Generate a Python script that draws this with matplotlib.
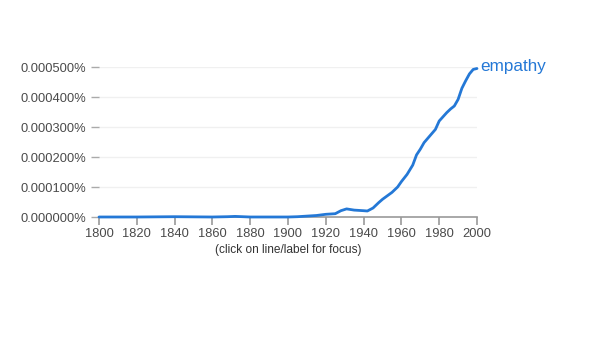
import matplotlib.pyplot as plt
from matplotlib.ticker import FuncFormatter

plt.rcParams['font.family'] = ['Liberation Sans', 'DejaVu Sans']

# yearly frequency of "empathy" (fraction, shown as percent)
years = [1800, 1820, 1840, 1860, 1868, 1872, 1876, 1880, 1900, 1905, 1910, 1915,
         1920, 1925, 1928, 1931, 1935, 1940, 1942, 1945, 1948, 1950, 1955, 1958,
         1960, 1963, 1966, 1968, 1970, 1972, 1975, 1978, 1980, 1982, 1984, 1986,
         1988, 1990, 1992, 1994, 1996, 1998, 2000]
values = [0.0, 0.0, 0.000001, 0.0, 0.000001, 0.000002, 0.000001, 0.0, 0.0, 0.000001,
          0.000003, 0.000005, 0.000009, 0.000011, 0.000021, 0.000027, 0.000023,
          0.000021, 0.00002, 0.00003, 0.000048, 0.000059, 0.000082, 0.0001,
          0.000118, 0.000142, 0.000173, 0.000207, 0.000226, 0.000248, 0.00027,
          0.000292, 0.00032, 0.000334, 0.000348, 0.00036, 0.00037, 0.000392,
          0.000429, 0.000454, 0.000477, 0.000492, 0.000495]
series_name = 'empathy'
xticks = list(range(1800, 2001, 20))
yticks = [0.0, 0.0001, 0.0002, 0.0003, 0.0004, 0.0005]

line_color = '#2478d6'
text_color = '#4a4a4a'

fig = plt.figure(figsize=(5.96, 3.58), dpi=100)
ax = fig.add_axes([99 / 596, 1 - 217 / 358, 378 / 596, 150 / 358])

ax.plot(years, values, color=line_color, linewidth=2.0, solid_capstyle='round',
        zorder=5, clip_on=False)
ax.text(years[-1] + 1.5, 0.000503, series_name, color=line_color, fontsize=12.3,
        va='center', ha='left')

ax.set_xlim(1800, 2000)
ax.set_ylim(0, 0.0005)
ax.set_xticks(xticks)
ax.set_yticks(yticks)
ax.yaxis.set_major_formatter(FuncFormatter(lambda v, p: '%.6f%%' % v))

for y in yticks[1:]:
    ax.axhline(y, color='#f0f0f0', linewidth=1, zorder=0)

for s in ['top', 'right', 'left']:
    ax.spines[s].set_visible(False)
ax.spines['bottom'].set_color('#999999')
ax.spines['bottom'].set_linewidth(1.2)

ax.tick_params(axis='x', colors='#999999', labelcolor=text_color, length=6,
               width=1.2, labelsize=9.3, pad=2)
ax.tick_params(axis='y', colors='#aaaaaa', labelcolor=text_color, length=6,
               width=1.0, labelsize=9.3, pad=3)

ax.set_xlabel('(click on line/label for focus)', fontsize=8.6, color='#333333',
              labelpad=3)

fig.savefig('out.png', dpi=100)
